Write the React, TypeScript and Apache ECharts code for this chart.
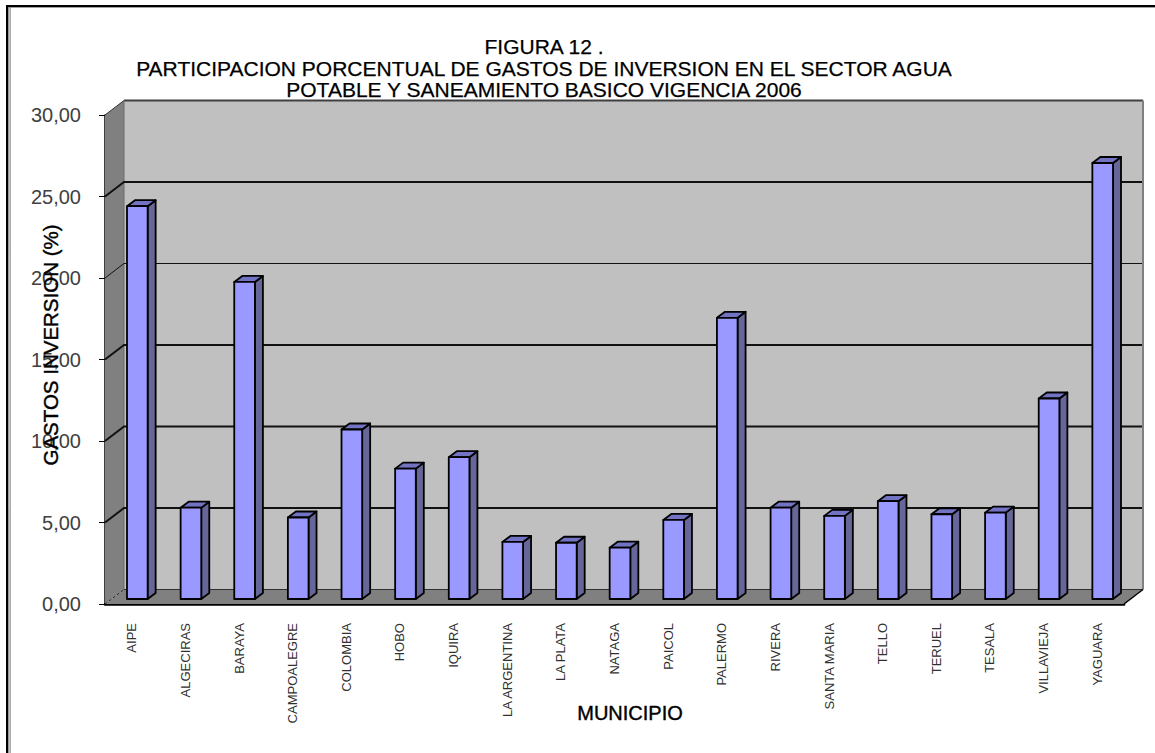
import React, { useEffect, useRef } from "react";
import * as echarts from "echarts";

const titleLines = [
  "FIGURA 12 .",
  "PARTICIPACION PORCENTUAL DE GASTOS DE INVERSION EN EL SECTOR AGUA",
  "POTABLE Y SANEAMIENTO BASICO VIGENCIA 2006",
];
const yAxisTitle = "GASTOS INVERSION (%)";
const xAxisTitle = "MUNICIPIO";

const municipios = [
  "AIPE", "ALGECIRAS", "BARAYA", "CAMPOALEGRE", "COLOMBIA", "HOBO", "IQUIRA",
  "LA ARGENTINA", "LA PLATA", "NATAGA", "PAICOL", "PALERMO", "RIVERA",
  "SANTA MARIA", "TELLO", "TERUEL", "TESALA", "VILLAVIEJA", "YAGUARA",
];
const gastos = [
  24.1, 5.6, 19.45, 5.0, 10.4, 8.0, 8.7, 3.5, 3.45, 3.15, 4.85, 17.25, 5.6,
  5.1, 6.0, 5.2, 5.3, 12.3, 26.75,
];
const gridValues = [5, 10, 15, 20, 25];
const gridWidths = [2, 2, 2, 1, 2];

const WALL_DX = 19;
const WALL_DY = 14.5;
const BAR_DX = 8;
const BAR_DY = 6;
const BAR_SHIFT_X = 5.5;
const BAR_SHIFT_Y = -5;
const BAR_FRACTION = 0.385;

const wallsItem = (params: any, api: any) => {
  const { x, y, width, height } = params.coordSys;
  const b = y + height;
  const r = x + width;
  const children: any[] = [
    { type: "polygon", shape: { points: [[x + WALL_DX, y - WALL_DY], [r + WALL_DX, y - WALL_DY], [r + WALL_DX, b - WALL_DY], [x + WALL_DX, b - WALL_DY]] }, style: { fill: "#c0c0c0" } },
    { type: "polygon", shape: { points: [[x, y], [x + WALL_DX, y - WALL_DY], [x + WALL_DX, b - WALL_DY], [x, b]] }, style: { fill: "#808080" } },
    { type: "polygon", shape: { points: [[x, b], [x + WALL_DX, b - WALL_DY], [r + WALL_DX, b - WALL_DY], [r, b]] }, style: { fill: "#808080" } },
    { type: "line", shape: { x1: x + WALL_DX, y1: y - WALL_DY, x2: r + WALL_DX, y2: y - WALL_DY }, style: { stroke: "#404040", lineWidth: 2 } },
    { type: "line", shape: { x1: x, y1: y, x2: x + WALL_DX, y2: y - WALL_DY }, style: { stroke: "#303030", lineWidth: 1 } },
    { type: "line", shape: { x1: x + WALL_DX, y1: y - WALL_DY, x2: x + WALL_DX, y2: b - WALL_DY }, style: { stroke: "#6a6a6a", lineWidth: 1 } },
    { type: "line", shape: { x1: r + WALL_DX, y1: y - WALL_DY, x2: r + WALL_DX, y2: b - WALL_DY }, style: { stroke: "#808080", lineWidth: 2 } },
    { type: "line", shape: { x1: x + WALL_DX, y1: b - WALL_DY, x2: r + WALL_DX, y2: b - WALL_DY }, style: { stroke: "#303030", lineWidth: 1 } },
    { type: "line", shape: { x1: x, y1: b, x2: x + WALL_DX, y2: b - WALL_DY }, style: { stroke: "#303030", lineWidth: 1, lineDash: [3, 2] } },
    { type: "line", shape: { x1: r, y1: b, x2: r + WALL_DX, y2: b - WALL_DY }, style: { stroke: "#000", lineWidth: 1.5 } },
  ];
  gridValues.forEach((v, i) => {
    const gy = api.coord([0, v])[1];
    children.push({
      type: "polyline",
      shape: { points: [[x, gy], [x + WALL_DX, gy - WALL_DY], [r + WALL_DX - 1, gy - WALL_DY]] },
      style: { fill: "none", stroke: "#111", lineWidth: gridWidths[i] },
    });
  });
  return { type: "group", children };
};

const barItem = (params: any, api: any) => {
  const idx = api.value(0);
  const top = api.coord([idx, api.value(1)]);
  const base = api.coord([idx, 0]);
  const w = api.size([1, 0])[0] * BAR_FRACTION;
  const l = top[0] - w / 2 + BAR_SHIFT_X;
  const r = l + w;
  const t = top[1] + BAR_SHIFT_Y;
  const b = base[1] + BAR_SHIFT_Y;
  const border = { stroke: "#000", lineWidth: 1.8, lineJoin: "round" };
  return {
    type: "group",
    children: [
      { type: "polygon", shape: { points: [[r, t], [r + BAR_DX, t - BAR_DY], [r + BAR_DX, b - BAR_DY], [r, b]] }, style: { fill: "#666699", ...border } },
      { type: "polygon", shape: { points: [[l, t], [l + BAR_DX, t - BAR_DY], [r + BAR_DX, t - BAR_DY], [r, t]] }, style: { fill: "#7373c4", ...border } },
      { type: "rect", shape: { x: l, y: t, width: w, height: b - t }, style: { fill: "#9999ff", ...border } },
    ],
  };
};

export default function App() {
  const ref = useRef<HTMLDivElement>(null);
  useEffect(() => {
    const chart = echarts.init(ref.current!, null, { renderer: "svg" });
    chart.setOption({
      animation: false,
      backgroundColor: "#ffffff",
      textStyle: { fontFamily: "Liberation Sans" },
      title: {
        text: titleLines.join("\n"),
        left: 539,
        top: 31,
        textAlign: "center",
        z: 0,
        textStyle: { fontFamily: "Liberation Sans", fontSize: 21, fontWeight: "normal", color: "#000", lineHeight: 21.5, textBorderColor: "#000", textBorderWidth: 0.25 },
      },
      grid: { left: 105, right: 31, top: 115, bottom: 149 },
      xAxis: {
        type: "category",
        data: municipios,
        axisLine: { onZero: false, lineStyle: { color: "#000", width: 2.6 } },
        axisTick: { length: 6, lineStyle: { color: "#000", width: 1 }, alignWithLabel: false },
        axisLabel: { rotate: 90, interval: 0, margin: 19, fontSize: 13, padding: [4, 0, 0, 0], color: "#303030", fontFamily: "Liberation Sans" },
      },
      yAxis: {
        type: "value",
        min: 0,
        max: 30,
        interval: 5,
        axisLine: { show: true, lineStyle: { color: "#000", width: 1.5 } },
        axisTick: { show: true, length: 6, lineStyle: { color: "#000", width: 1 } },
        splitLine: { show: false },
        axisLabel: {
          margin: 24,
          fontSize: 20,
          color: "#404040",
          fontFamily: "Liberation Sans",
          formatter: (v: number) => v.toFixed(2).replace(".", ","),
        },
      },
      graphic: [
        { type: "rect", z: 100, shape: { x: 6, y: 5, width: 2.4, height: 748 }, style: { fill: "#000" } },
        { type: "rect", z: 100, shape: { x: 9.5, y: 7, width: 1.2, height: 746 }, style: { fill: "#8a8a8a" } },
        { type: "rect", z: 100, shape: { x: 6, y: 5, width: 1149, height: 2.2 }, style: { fill: "#000" } },
        { type: "rect", z: 100, shape: { x: 8, y: 7.2, width: 1147, height: 0.8 }, style: { fill: "#999" } },
        {
          type: "text", z: 100, x: 50.5, y: 345, rotation: Math.PI / 2,
          style: { text: yAxisTitle, fontFamily: "Liberation Sans", fontSize: 20.5, fill: "#000", stroke: "#000", lineWidth: 0.4, align: "center", verticalAlign: "middle" },
        },
        {
          type: "text", z: 100, x: 630, y: 713,
          style: { text: xAxisTitle, fontFamily: "Liberation Sans", fontSize: 20, fill: "#000", stroke: "#000", lineWidth: 0.4, align: "center", verticalAlign: "middle" },
        },
      ],
      series: [
        { type: "custom", name: "Paredes", z: 1, silent: true, clip: false, renderItem: wallsItem, data: [[0, 0]], encode: { x: 0, y: 1 } },
        { type: "custom", name: "Gastos", z: 5, silent: true, clip: false, renderItem: barItem, data: gastos.map((v, i) => [i, v]), encode: { x: 0, y: 1 } },
      ],
    });
    return () => chart.dispose();
  }, []);
  return <div ref={ref} style={{ position: "fixed", left: 0, top: 0, width: 1155, height: 753 }} />;
}
